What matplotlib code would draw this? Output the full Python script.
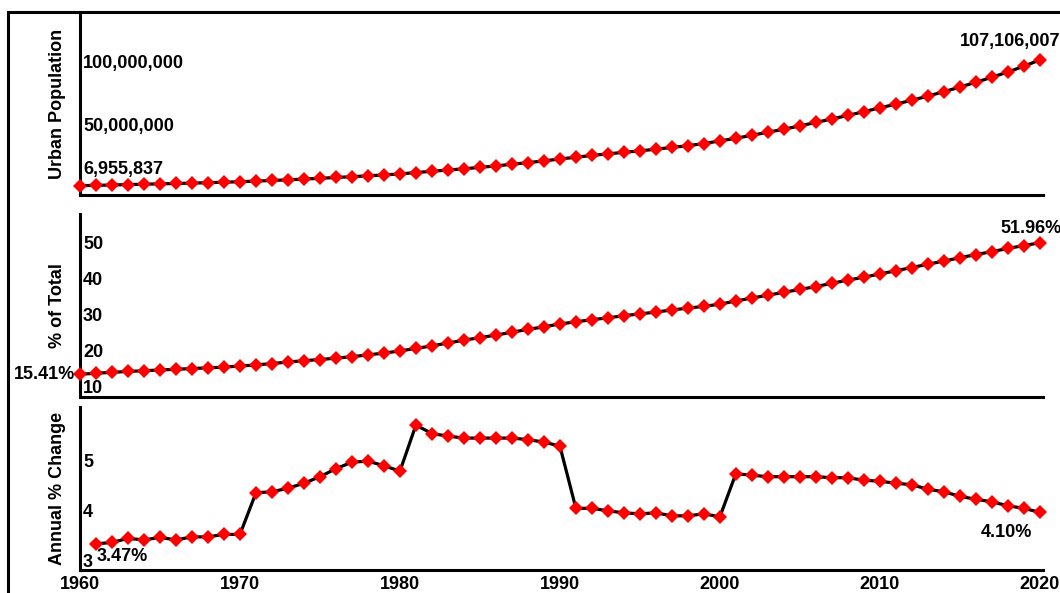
import matplotlib
matplotlib.use("Agg")
import matplotlib.pyplot as plt
import matplotlib.transforms as mtransforms
from matplotlib.patches import Rectangle

plt.rcParams['font.family'] = ['Liberation Sans', 'DejaVu Sans']
plt.rcParams['font.weight'] = 'bold'
plt.rcParams['font.size'] = 13

# ---------------- data ----------------
years = list(range(1960, 2021))

# Urban population (millions)
urban_pop_m = [
    6.955837, 7.2, 7.5, 7.8, 8.1, 8.4, 8.7, 9.0, 9.3, 9.7,
    10.1, 10.6, 11.1, 11.6, 12.2, 12.8, 13.5, 14.1, 14.8, 15.5,
    16.3, 17.4, 18.4, 19.4, 20.4, 21.5, 22.7, 24.0, 25.3, 26.7,
    28.2, 29.6, 31.0, 32.3, 33.5, 34.7, 36.0, 37.4, 38.8, 40.5,
    42.6, 44.7, 47.1, 49.5, 51.9, 54.6, 57.3, 60.1, 62.9, 65.9,
    68.9, 71.9, 75.0, 78.3, 81.8, 85.5, 89.3, 93.3, 97.5, 102.1,
    107.106007,
]

# Urban population as % of total
urban_pct = [
    15.41, 15.7, 15.95, 16.2, 16.4, 16.6, 16.8, 17.0, 17.2, 17.4,
    17.7, 18.0, 18.4, 18.8, 19.2, 19.5, 19.9, 20.3, 20.8, 21.3,
    21.9, 22.6, 23.3, 24.1, 24.9, 25.6, 26.3, 27.1, 27.9, 28.6,
    29.4, 30.0, 30.6, 31.1, 31.7, 32.2, 32.7, 33.3, 33.8, 34.3,
    34.9, 35.8, 36.6, 37.4, 38.2, 39.0, 39.8, 40.7, 41.6, 42.4,
    43.3, 44.2, 45.1, 46.0, 46.9, 47.8, 48.7, 49.5, 50.4, 51.2,
    51.96,
]

# Annual % change (from 1961)
change_years = list(range(1961, 2021))
annual_change = [
    3.47, 3.50, 3.58, 3.55, 3.60, 3.55, 3.61, 3.61, 3.66, 3.66,
    4.49, 4.51, 4.58, 4.68, 4.81, 4.97, 5.10, 5.12, 5.03, 4.92,
    5.84, 5.67, 5.62, 5.58, 5.58, 5.58, 5.58, 5.55, 5.50, 5.42,
    4.18, 4.18, 4.13, 4.09, 4.07, 4.09, 4.03, 4.03, 4.07, 4.01,
    4.87, 4.84, 4.81, 4.81, 4.81, 4.81, 4.79, 4.79, 4.74, 4.72,
    4.68, 4.65, 4.56, 4.51, 4.42, 4.36, 4.31, 4.23, 4.18, 4.10,
]

pop_ticks = [50_000_000, 100_000_000]
pop_tick_labels = ["50,000,000", "100,000,000"]
pct_ticks = [10, 20, 30, 40, 50]
chg_ticks = [3, 4, 5]
x_ticks = [1960, 1970, 1980, 1990, 2000, 2010, 2020]

ylabels = ["Urban Population", "% of Total", "Annual % Change"]

# ---------------- figure ----------------
W, H = 1060, 593
fig = plt.figure(figsize=(W / 100, H / 100), dpi=100)


def rect(top_px, bottom_px, left_px=80, right_px=1043):
    return [left_px / W, 1 - bottom_px / H, (right_px - left_px) / W, (bottom_px - top_px) / H]


ax1 = fig.add_axes(rect(12, 195))
ax2 = fig.add_axes(rect(214, 397))
ax3 = fig.add_axes(rect(407, 570))

pop_values = [v * 1e6 for v in urban_pop_m]

series = [
    (ax1, years, pop_values, (-0.48e6, 145.3e6)),
    (ax2, years, urban_pct, (9.09, 59.98)),
    (ax3, change_years, annual_change, (2.95, 6.20)),
]

for ax, xs, ys, ylim in series:
    ax.plot(xs, ys, color='black', lw=2.3, zorder=2, clip_on=False, solid_capstyle='butt')
    ax.plot(xs, ys, linestyle='none', marker='D', ms=7.4, color='#ff0000',
            markeredgewidth=0, zorder=3, clip_on=False)
    ax.set_xlim(1960, 2020.2)
    ax.set_ylim(*ylim)
    for s in ['top', 'right']:
        ax.spines[s].set_visible(False)
    for s in ['left', 'bottom']:
        ax.spines[s].set_linewidth(2.2)
        ax.spines[s].set_color('black')
    ax.set_yticks([])
    ax.tick_params(axis='x', length=0)
    ax.patch.set_alpha(0)

ax1.set_xticks([])
ax2.set_xticks([])
ax3.set_xticks(x_ticks)
ax3.set_xticklabels([str(x) for x in x_ticks], fontsize=13, fontweight='bold')
ax3.tick_params(axis='x', pad=4)


# in-axes y tick labels
def inner_labels(ax, ticks, labels):
    trans = mtransforms.blended_transform_factory(ax.transAxes, ax.transData)
    off = mtransforms.ScaledTranslation(3 / 100, 5 / 100, fig.dpi_scale_trans)
    for t, lab in zip(ticks, labels):
        ax.text(0, t, lab, transform=trans + off, ha='left', va='center',
                fontsize=13, fontweight='bold')


inner_labels(ax1, pop_ticks, pop_tick_labels)
inner_labels(ax2, pct_ticks, [str(t) for t in pct_ticks])
inner_labels(ax3, chg_ticks, [str(t) for t in chg_ticks])

# y axis labels
for ax, lab in zip([ax1, ax2, ax3], ylabels):
    ax.set_ylabel(lab, fontsize=13, fontweight='bold', va='center')
    ax.yaxis.set_label_coords(-22 / 963, 0.5)

# value annotations
kw = dict(textcoords='offset pixels', fontsize=13, fontweight='bold', va='center',
          annotation_clip=False)
ax1.annotate(f"{round(pop_values[0]):,}", (years[0], pop_values[0]),
             xytext=(3, 16), ha='left', **kw)
ax1.annotate(f"{round(pop_values[-1]):,}", (years[-1], pop_values[-1]),
             xytext=(-30, 18), ha='center', **kw)
ax2.annotate(f"{urban_pct[0]:.2f}%", (years[0], urban_pct[0]),
             xytext=(-5, 0), ha='right', **kw)
ax2.annotate(f"{urban_pct[-1]:.2f}%", (years[-1], urban_pct[-1]),
             xytext=(-9, 14), ha='center', **kw)
ax3.annotate(f"{annual_change[0]:.2f}%", (change_years[0], annual_change[0]),
             xytext=(1, -13), ha='left', **kw)
ax3.annotate(f"{annual_change[-1]:.2f}%", (change_years[-1], annual_change[-1]),
             xytext=(-8, -20), ha='right', **kw)

# outer frame
top = 1 - 12 / H
fig.add_artist(Rectangle((8 / W, -0.2), 1.5, top + 0.2, transform=fig.transFigure,
                         fill=False, lw=2.2, edgecolor='black', clip_on=False))

fig.savefig("out.png", dpi=100)
